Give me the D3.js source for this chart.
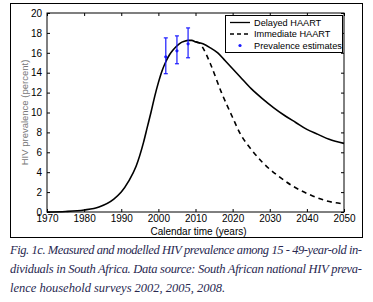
<!DOCTYPE html>
<html>
<head>
<meta charset="utf-8">
<script src="https://cdn.jsdelivr.net/npm/d3@7"></script>
<style>
  body { margin: 0; background: #fff; overflow: hidden; }
  svg { display: block; }
  text { font-family: "Liberation Sans", Arial, sans-serif; }
</style>
</head>
<body>
<script>
// modelled prevalence, delayed HAART (percent)
const delayedYears = [1970, 1975, 1980, 1984, 1988, 1990, 1992, 1994, 1996, 1997, 1998, 1999, 2000, 2001, 2002, 2003, 2004, 2005, 2006, 2007, 2008, 2009, 2010, 2012, 2014, 2016, 2018, 2020, 2022, 2025, 2028, 2031, 2034, 2037, 2040, 2043, 2046, 2050]
const delayedValues = [0, 0.05, 0.2, 0.5, 1.3, 2.0, 3.1, 4.6, 7.0, 8.5, 10.0, 11.6, 13.0, 14.2, 15.1, 15.8, 16.3, 16.7, 17.0, 17.15, 17.25, 17.25, 17.1, 16.9, 16.5, 16.0, 15.2, 14.4, 13.6, 12.4, 11.4, 10.5, 9.7, 9.0, 8.3, 7.8, 7.3, 6.9]
// immediate HAART branches off around 2010
const immediateYears = [2010, 2011, 2012, 2014, 2017, 2020, 2022, 2025, 2028, 2032, 2036, 2041, 2045, 2050]
const immediateValues = [17.1, 17.0, 16.5, 14.9, 12.0, 9.5, 7.9, 6.3, 5.0, 3.7, 2.65, 1.7, 1.15, 0.8]
// survey estimates with error bars
const surveyYears = [2002, 2005, 2008]
const surveyValues = [15.6, 16.2, 16.9]
const surveyLow = [13.9, 14.9, 15.5]
const surveyHigh = [17.5, 17.7, 18.5]

const xTicks = [1970, 1980, 1990, 2000, 2010, 2020, 2030, 2040, 2050]
const yTicks = [0, 2, 4, 6, 8, 10, 12, 14, 16, 18, 20]
const legendLabels = ["Delayed HAART", "Immediate HAART", "Prevalence estimates"]
const captionLines = [
  "Fig. 1c. Measured and modelled HIV prevalence among 15 - 49-year-old in-",
  "dividuals in South Africa. Data source: South African national HIV preva-",
  "lence household surveys 2002, 2005, 2008."
]

const width = 373, height = 302
const margin = {left: 47, right: 29, top: 13, bottom: 90}
const blue = "#1a1aff"

const svg = d3.select("body").append("svg")
  .attr("width", width)
  .attr("height", height)

// outer frame of the figure
svg.append("rect")
  .attr("x", 10.5).attr("y", 3.5)
  .attr("width", 352).attr("height", 234)
  .attr("fill", "none").attr("stroke", "#000").attr("stroke-width", 1)

const x = d3.scaleLinear()
  .domain([1970, 2050])
  .range([margin.left, width - margin.right])

const y = d3.scaleLinear()
  .domain([0, 20])
  .range([height - margin.bottom, margin.top])

// axes, ticks pointing inwards on all sides like matlab
const tickStyle = g => g
  .call(g => g.selectAll(".tick line").attr("stroke", "#000"))
  .call(g => g.selectAll(".tick text").attr("fill", "#000").attr("font-size", 10))
  .call(g => g.select(".domain").remove())

svg.append("g")
  .attr("transform", `translate(0,${y(0)})`)
  .call(d3.axisBottom(x).tickValues(xTicks).tickFormat(d3.format("d")).tickSizeInner(-3).tickPadding(3))
  .call(tickStyle)
svg.append("g")
  .attr("transform", `translate(0,${y(20)})`)
  .call(d3.axisTop(x).tickValues(xTicks).tickFormat("").tickSizeInner(-3))
  .call(tickStyle)
svg.append("g")
  .attr("transform", `translate(${x(1970)},0)`)
  .call(d3.axisLeft(y).tickValues(yTicks).tickSizeInner(-3).tickPadding(5))
  .call(tickStyle)
svg.append("g")
  .attr("transform", `translate(${x(2050)},0)`)
  .call(d3.axisRight(y).tickValues(yTicks).tickFormat("").tickSizeInner(-3))
  .call(tickStyle)

svg.append("rect")
  .attr("x", x(1970)).attr("y", y(20))
  .attr("width", x(2050) - x(1970)).attr("height", y(0) - y(20))
  .attr("fill", "none").attr("stroke", "#000").attr("stroke-width", 1)

svg.append("text")
  .attr("x", (x(1970) + x(2050)) / 2 + 3)
  .attr("y", 235)
  .attr("text-anchor", "middle")
  .attr("font-size", 10)
  .text("Calendar time (years)")

svg.append("text")
  .attr("transform", `translate(28,${(y(0) + y(20)) / 2}) rotate(-90)`)
  .attr("text-anchor", "middle")
  .attr("font-size", 9.5)
  .attr("fill", "#777")
  .text("HIV prevalence (percent)")

// curves
const line = d3.line()
  .x(d => x(d[0]))
  .y(d => y(d[1]))
  .curve(d3.curveMonotoneX)

svg.append("path")
  .datum(delayedYears.map((yr, i) => [yr, delayedValues[i]]))
  .attr("d", line)
  .attr("fill", "none").attr("stroke", "#000").attr("stroke-width", 1.6)

svg.append("path")
  .datum(immediateYears.map((yr, i) => [yr, immediateValues[i]]))
  .attr("d", line)
  .attr("fill", "none").attr("stroke", "#000").attr("stroke-width", 1.6)
  .attr("stroke-dasharray", "5,4")

// survey points with error bars
const survey = svg.append("g").selectAll("g")
  .data(surveyYears.map((yr, i) => ({yr: yr, v: surveyValues[i], lo: surveyLow[i], hi: surveyHigh[i]})))
  .join("g")
  .attr("stroke", blue).attr("stroke-width", 1.2)

survey.append("line")
  .attr("x1", d => x(d.yr)).attr("x2", d => x(d.yr))
  .attr("y1", d => y(d.lo)).attr("y2", d => y(d.hi))
survey.append("line")
  .attr("x1", d => x(d.yr) - 2).attr("x2", d => x(d.yr) + 2)
  .attr("y1", d => y(d.lo)).attr("y2", d => y(d.lo))
survey.append("line")
  .attr("x1", d => x(d.yr) - 2).attr("x2", d => x(d.yr) + 2)
  .attr("y1", d => y(d.hi)).attr("y2", d => y(d.hi))
survey.append("circle")
  .attr("cx", d => x(d.yr)).attr("cy", d => y(d.v))
  .attr("r", 1.6).attr("fill", blue).attr("stroke", "none")

// legend
const legend = svg.append("g")
legend.append("rect")
  .attr("x", 225.5).attr("y", 15.5)
  .attr("width", 117).attr("height", 37)
  .attr("fill", "#fff").attr("stroke", "#000").attr("stroke-width", 1)

const legendItems = legend.selectAll("g")
  .data(legendLabels)
  .join("g")
  .attr("transform", (d, i) => `translate(0,${22.5 + i * 11.5})`)

legendItems.filter((d, i) => i < 2).append("line")
  .attr("x1", 230).attr("x2", 250)
  .attr("stroke", "#000").attr("stroke-width", 1.3)
  .attr("stroke-dasharray", (d, i) => i == 1 ? "4,3" : null)
legendItems.filter((d, i) => i == 2).append("circle")
  .attr("cx", 240).attr("r", 1.6).attr("fill", blue)
legendItems.append("text")
  .attr("x", 254).attr("dy", "0.35em")
  .attr("font-size", 9.2)
  .text(d => d)

// caption, justified like the printed page
svg.append("g").selectAll("text")
  .data(captionLines)
  .join("text")
  .attr("x", 10)
  .attr("y", (d, i) => 254 + i * 19)
  .style("font-family", "'Liberation Serif', 'DejaVu Serif', serif")
  .style("font-style", "italic")
  .attr("font-size", 12.5)
  .attr("fill", "#282850")
  .attr("textLength", (d, i) => i < 2 ? 352 : null)
  .attr("lengthAdjust", "spacing")
  .text(d => d)
</script>
</body>
</html>
